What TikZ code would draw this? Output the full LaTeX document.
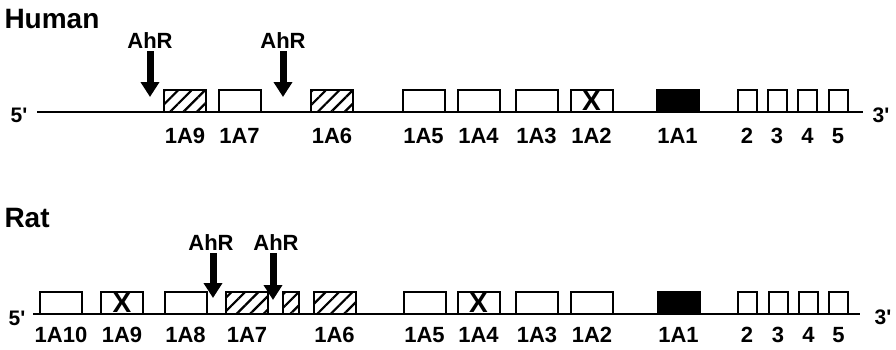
\documentclass[tikz,border=0pt]{standalone}
\usepackage{fontspec}
\setmainfont{Liberation Sans}
\usetikzlibrary{arrows.meta,patterns.meta}
\tikzset{
  exon/.style={rectangle,draw,fill=white,line width=2pt,minimum width=42pt,minimum height=22pt,inner sep=0pt},
  smallexon/.style={exon,minimum width=19pt},
  hatchexon/.style={exon,pattern={Lines[angle=45,distance=9.5pt,line width=2.2pt]}},
  deadexon/.style={exon,font=\bfseries\fontsize{28}{28}\selectfont},
  mainexon/.style={exon,fill=black},
  lbl/.style={font=\bfseries\fontsize{22}{22}\selectfont,text height=16pt,text depth=0pt,inner sep=0pt,label distance=15pt},
  ratlbl/.style={lbl,label distance=11pt},
  ahr/.style={font=\bfseries\fontsize{22}{22}\selectfont,inner sep=2pt},
  endlbl/.style={font=\bfseries\fontsize{21}{21}\selectfont},
  title/.style={font=\bfseries\fontsize{28}{28}\selectfont,anchor=west},
  ahrarrow/.style={line width=7pt,-{Triangle[width=18pt,length=15pt]}},
  every picture/.style={line cap=butt,line join=miter}
}

\begin{document}
\begin{tikzpicture}[x=1pt,y=-1pt]
    \useasboundingbox (0,0) rectangle (896,349);

    % human
    \node[title] (human) at (1,19) {Human};
    \node[endlbl] (h5) at (19,115) {5\textquotesingle};
    \node[endlbl] (h3) at (881,115) {3\textquotesingle};
    \coordinate (hs) at (37,112);
    \coordinate (he) at (863,112);
    \draw[line width=2pt] (hs) -- (he);

    \node[hatchexon,label={[lbl]below:1A9}] (h1A9) at (185,100.5) {};
    \node[exon,label={[lbl]below:1A7}] (h1A7) at (239.5,100.5) {};
    \node[hatchexon,label={[lbl]below:1A6}] (h1A6) at (332,100.5) {};
    \node[exon,label={[lbl]below:1A5}] (h1A5) at (423.5,100.5) {};
    \node[exon,label={[lbl]below:1A4}] (h1A4) at (478.5,100.5) {};
    \node[exon,label={[lbl]below:1A3}] (h1A3) at (536.5,100.5) {};
    \node[deadexon,label={[lbl]below:1A2}] (h1A2) at (591.5,100.5) {X};
    \node[mainexon,label={[lbl]below:1A1}] (h1A1) at (677.5,100.5) {};
    \node[smallexon,label={[lbl]below:2}] (hx2) at (747,100.5) {};
    \node[smallexon,label={[lbl]below:3}] (hx3) at (777,100.5) {};
    \node[smallexon,label={[lbl]below:4}] (hx4) at (807.5,100.5) {};
    \node[smallexon,label={[lbl]below:5}] (hx5) at (838,100.5) {};

    \node[ahr] (hahr1) at (150,41) {AhR};
    \node[ahr] (hahr2) at (283,41) {AhR};
    \coordinate (ht1) at (150,97);
    \coordinate (ht2) at (283,97);
    \draw[ahrarrow] (hahr1) -- (ht1);
    \draw[ahrarrow] (hahr2) -- (ht2);

    % rat
    \node[title] (rat) at (1,218) {Rat};
    \node[endlbl] (r5) at (17,318) {5\textquotesingle};
    \node[endlbl] (r3) at (883,317) {3\textquotesingle};
    \coordinate (rs) at (33,314);
    \coordinate (re) at (860,314);
    \draw[line width=2pt] (rs) -- (re);

    \node[exon,label={[ratlbl]below:1A10}] (r1A10) at (61,303) {};
    \node[deadexon,label={[ratlbl]below:1A9}] (r1A9) at (122,303) {X};
    \node[exon,label={[ratlbl]below:1A8}] (r1A8) at (185.5,303) {};
    \node[hatchexon,label={[ratlbl]below:1A7}] (r1A7) at (247,303) {};
    \node[hatchexon,minimum width=16pt] (r1A7b) at (291,303) {};
    \node[hatchexon,label={[ratlbl]below:1A6}] (r1A6) at (334.5,303) {};
    \node[exon,label={[ratlbl]below:1A5}] (r1A5) at (424.5,303) {};
    \node[deadexon,label={[ratlbl]below:1A4}] (r1A4) at (478.5,303) {X};
    \node[exon,label={[ratlbl]below:1A3}] (r1A3) at (537,303) {};
    \node[exon,label={[ratlbl]below:1A2}] (r1A2) at (592,303) {};
    \node[mainexon,label={[ratlbl]below:1A1}] (r1A1) at (678.5,303) {};
    \node[smallexon,label={[ratlbl]below:2}] (rx2) at (747,303) {};
    \node[smallexon,label={[ratlbl]below:3}] (rx3) at (778,303) {};
    \node[smallexon,label={[ratlbl]below:4}] (rx4) at (808.5,303) {};
    \node[smallexon,label={[ratlbl]below:5}] (rx5) at (838.5,303) {};

    \node[ahr] (rahr1) at (211,243) {AhR};
    \node[ahr] (rahr2) at (276,243) {AhR};
    \coordinate (rt1) at (213,298);
    \coordinate (rt2) at (273,300);
    \draw[ahrarrow] (rahr1.south -| rt1) -- (rt1);
    \draw[ahrarrow] (rahr2.south -| rt2) -- (rt2);
\end{tikzpicture}
\end{document}
